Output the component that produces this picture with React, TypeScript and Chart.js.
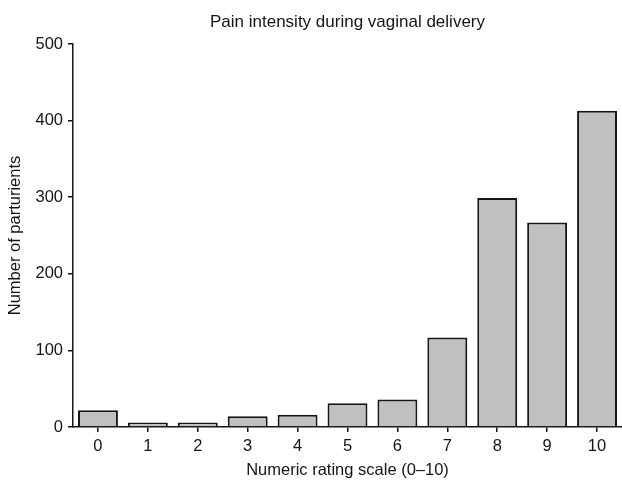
import React, { useEffect, useRef } from "react";
import { Chart, registerables } from "chart.js";

Chart.register(...registerables);

const categories = ["0", "1", "2", "3", "4", "5", "6", "7", "8", "9", "10"];
const counts = [22, 6, 6, 14, 16, 31, 36, 117, 299, 267, 413];
const yTicks = [0, 100, 200, 300, 400, 500];
const chartTitle = "Pain intensity during vaginal delivery";
const xTitle = "Numeric rating scale (0\u201310)";
const yTitle = "Number of parturients";

const FONT = "Arial, 'Liberation Sans', sans-serif";
const INK = "#151515";

export default function App() {
  const ref = useRef<HTMLCanvasElement | null>(null);

  useEffect(() => {
    if (!ref.current) return;
    const titlePlugin = {
      id: "centerTitle",
      afterDraw(chart: any) {
        const { ctx, chartArea } = chart;
        ctx.save();
        ctx.font = `17px ${FONT}`;
        ctx.fillStyle = INK;
        ctx.textAlign = "center";
        ctx.textBaseline = "alphabetic";
        ctx.fillText(chartTitle, (chartArea.left + chartArea.right) / 2, 27);
        ctx.restore();
      },
    };
    const chart = new Chart(ref.current, {
      type: "bar",
      data: {
        labels: categories,
        datasets: [
          {
            data: counts,
            backgroundColor: "#c0c0c0",
            borderColor: INK,
            borderWidth: 2,
            barPercentage: 0.8,
            categoryPercentage: 1.0,
          },
        ],
      },
      options: {
        animation: false,
        responsive: false,
        maintainAspectRatio: false,
        layout: { padding: { top: 44, right: 0, bottom: 0, left: 0 } },
        plugins: {
          legend: { display: false },
          title: { display: false },
          tooltip: { enabled: false },
        },
        scales: {
          x: {
            type: "category",
            offset: true,
            grid: {
              drawOnChartArea: false,
              drawTicks: true,
              tickLength: 5,
              color: INK,
              lineWidth: 1.5,
              offset: false,
            },
            border: { display: true, color: INK, width: 1.5 },
            ticks: {
              color: INK,
              padding: 5,
              font: { family: FONT, size: 16.5 },
            },
            title: {
              display: true,
              text: xTitle,
              color: INK,
              font: { family: FONT, size: 16.5 },
              padding: { top: 0, bottom: 0 },
            },
            afterFit(scale: any) {
              scale.height = 53;
            },
          },
          y: {
            min: 0,
            max: 500,
            afterBuildTicks(scale: any) {
              scale.ticks = yTicks.map((v) => ({ value: v }));
            },
            grid: {
              drawOnChartArea: false,
              drawTicks: true,
              tickLength: 5,
              color: INK,
              lineWidth: 1.5,
            },
            border: { display: true, color: INK, width: 1.5 },
            ticks: {
              color: INK,
              padding: 5,
              font: { family: FONT, size: 16.5 },
            },
            title: {
              display: true,
              text: yTitle,
              color: INK,
              font: { family: FONT, size: 16.5 },
              padding: { top: 6, bottom: 0 },
            },
            afterFit(scale: any) {
              scale.width = 73;
            },
          },
        },
      },
      plugins: [titlePlugin],
    });
    return () => chart.destroy();
  }, []);

  return (
    <div style={{ position: "fixed", left: 0, top: 0, width: 622, height: 480, background: "#fff" }}>
      <canvas ref={ref} width={622} height={480} style={{ width: 622, height: 480, display: "block" }} />
    </div>
  );
}
